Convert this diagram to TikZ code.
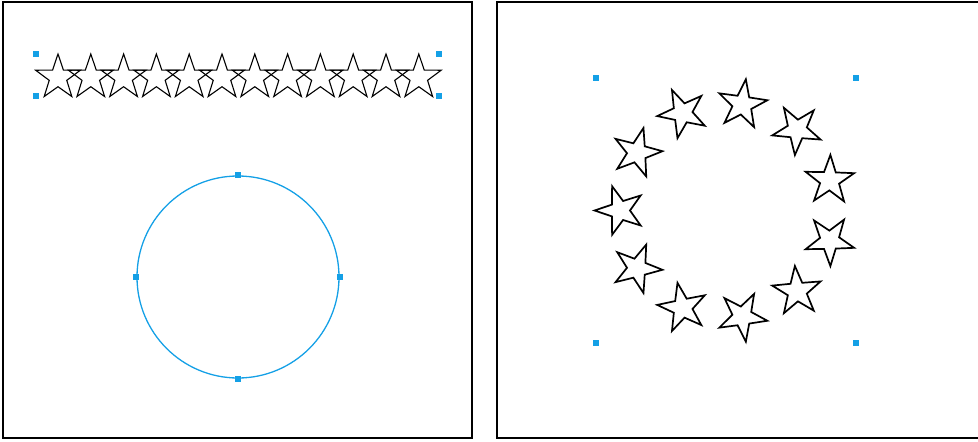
\documentclass[tikz,border=0pt]{standalone}
\usetikzlibrary{shapes.geometric}
\definecolor{selblue}{RGB}{20,160,230}
\begin{document}
\begin{tikzpicture}[x=1pt, y=-1pt, line width=1pt,
  starnode/.style={star, star points=5, star point ratio=2.55, inner sep=0pt, draw=black},
  handle/.style={fill=selblue, inner sep=0pt, minimum size=6pt}]
  \useasboundingbox (0,0) rectangle (978,442);
  \draw[line width=1.2pt] (3,2) rectangle (472,438);
  \draw[line width=1.2pt] (990,2) -- (497,2) -- (497,438) -- (990,438);
  \foreach \k in {0,...,11}
    \node[starnode, line width=1.1pt, minimum size=47pt] (row\k) at ({58+32.8*\k},77.5) {};
  \foreach \n/\x/\y in {a/36/54, b/439/54, c/36/96, d/439/96}
    \node[handle] (rowh\n) at (\x,\y) {};
  \node[circle, draw=selblue, line width=1.3pt, inner sep=0pt, minimum size=202pt] (ring) at (238,277) {};
  \foreach \n in {north, south, east, west}
    \node[handle] (ringh-\n) at (ring.\n) {};
  \foreach \k in {0,...,10} {
    \pgfmathsetmacro\a{180-360/11*\k}
    \node[starnode, line width=1.7pt, minimum size=51pt, rotate=\a-90] (eu\k) at ({727+107*cos(\a)},{210.5-107*sin(\a)}) {};
  }
  \foreach \n/\x/\y in {a/596/78, b/856/78, c/596/343, d/856/343}
    \node[handle] (euh\n) at (\x,\y) {};
\end{tikzpicture}
\end{document}
